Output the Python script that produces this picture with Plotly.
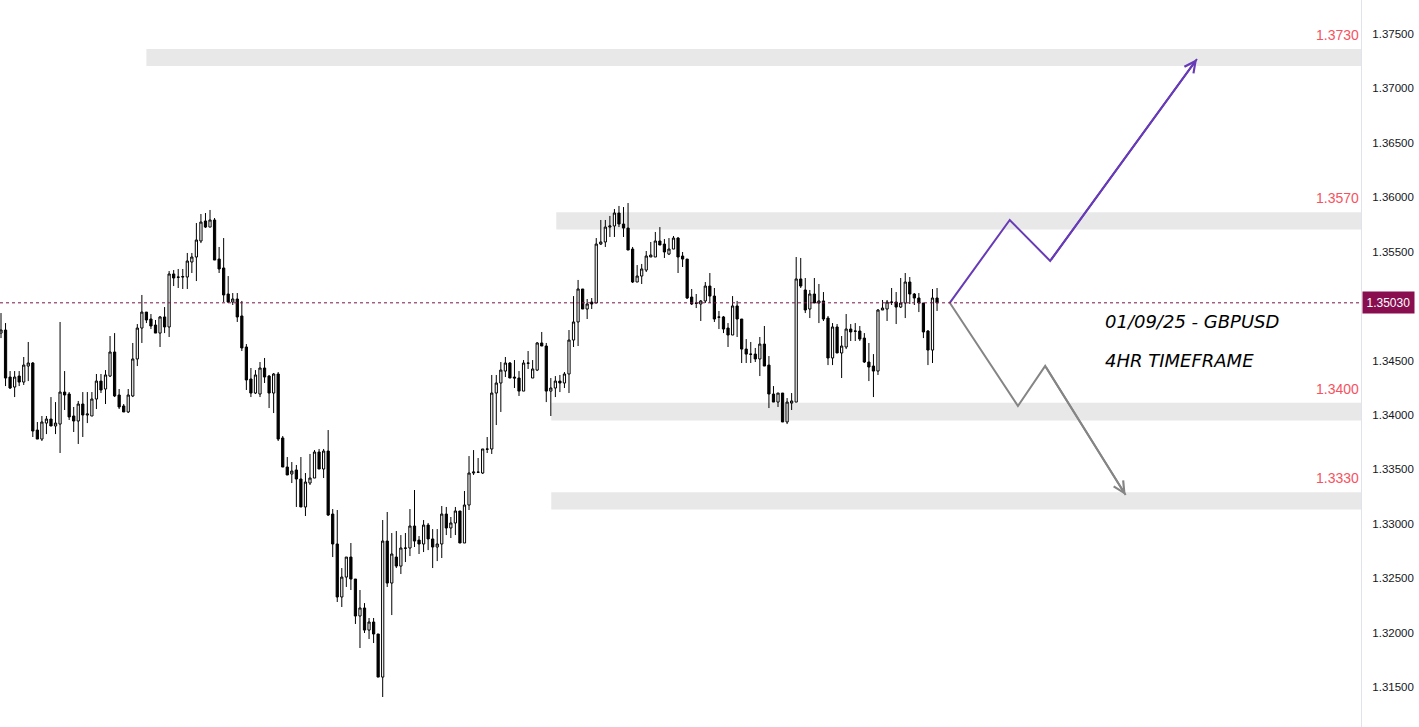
import plotly.graph_objects as go

# ---------------- data (GBPUSD 4H) ----------------
opens = [1.34752,1.34780,1.34348,1.34256,1.34357,1.34302,1.34449,1.34477,1.33861,1.33778,
1.33925,1.33962,1.33898,1.33916,1.34210,1.34192,1.33990,1.33944,1.34100,1.33999,
1.33990,1.34146,1.34311,1.34238,1.34357,1.34578,1.34183,1.34082,1.34027,1.34174,
1.34514,1.34798,1.34945,1.34881,1.34826,1.34752,1.34900,1.34808,1.35295,1.35267,
1.35267,1.35267,1.35405,1.35451,1.35598,1.35782,1.35726,1.35791,1.35432,1.35350,
1.35111,1.35037,1.35065,1.34909,1.34624,1.34330,1.34201,1.34192,1.34431,1.34357,
1.34201,1.34376,1.33788,1.33521,1.33457,1.33494,1.33411,1.33154,1.33374,1.33420,
1.33659,1.33503,1.33668,1.33089,1.32814,1.32327,1.32510,1.32694,1.32492,1.32152,
1.32226,1.32023,1.32097,1.31987,1.31591,1.32841,1.32455,1.32694,1.32611,1.32777,
1.32777,1.32979,1.32850,1.32814,1.32988,1.32860,1.32786,1.32814,1.33089,1.32961,
1.33007,1.33117,1.32823,1.33172,1.33466,1.33475,1.33466,1.33687,1.33687,1.34201,
1.34293,1.34403,1.34477,1.34348,1.34339,1.34219,1.34477,1.34339,1.34412,1.34661,
1.34633,1.34219,1.34247,1.34311,1.34293,1.34376,1.34688,1.34854,1.35157,1.34973,
1.35037,1.35028,1.35570,1.35589,1.35726,1.35736,1.35855,1.35754,1.35717,1.35524,
1.35221,1.35276,1.35331,1.35451,1.35451,1.35598,1.35570,1.35478,1.35524,1.35625,
1.35460,1.35432,1.35083,1.35028,1.35019,1.35047,1.35184,1.35092,1.34900,1.34900,
1.34798,1.34734,1.35001,1.34881,1.34605,1.34559,1.34559,1.34514,1.34651,1.34458,
1.34192,1.34118,1.34201,1.33935,1.34109,1.34118,1.35249,1.35148,1.34973,1.35111,
1.35028,1.35047,1.34890,1.34523,1.34808,1.34569,1.34624,1.34789,1.34771,1.34771,
1.34706,1.34486,1.34449,1.34403,1.34964,1.34973,1.35037,1.35037,1.34991,1.35028,
1.35221,1.35111,1.35074,1.35028,1.34771,1.34596,1.35074]

closes = [1.34780,1.34339,1.34247,1.34348,1.34302,1.34458,1.34477,1.33852,1.33778,1.33935,
1.33962,1.33898,1.33925,1.34210,1.34183,1.33981,1.33944,1.34100,1.33999,1.34008,
1.34146,1.34311,1.34229,1.34367,1.34578,1.34174,1.34073,1.34027,1.34183,1.34514,
1.34798,1.34945,1.34872,1.34817,1.34752,1.34900,1.34808,1.35295,1.35258,1.35265,
1.35271,1.35414,1.35451,1.35607,1.35772,1.35726,1.35791,1.35423,1.35341,1.35102,
1.35037,1.35065,1.34900,1.34615,1.34321,1.34201,1.34367,1.34431,1.34348,1.34201,
1.34376,1.33778,1.33521,1.33448,1.33484,1.33411,1.33154,1.33383,1.33420,1.33659,
1.33503,1.33668,1.33080,1.32814,1.32327,1.32510,1.32694,1.32492,1.32152,1.32226,
1.32023,1.32097,1.31987,1.31591,1.32841,1.32455,1.32722,1.32611,1.32777,1.32775,
1.32979,1.32841,1.32814,1.32988,1.32860,1.32786,1.32814,1.33089,1.32961,1.33007,
1.33117,1.32823,1.33172,1.33466,1.33475,1.33473,1.33687,1.33685,1.34201,1.34293,
1.34412,1.34477,1.34339,1.34339,1.34219,1.34477,1.34475,1.34422,1.34661,1.34633,
1.34219,1.34247,1.34311,1.34293,1.34376,1.34688,1.34854,1.35157,1.34973,1.35019,
1.35019,1.35570,1.35589,1.35726,1.35736,1.35855,1.35754,1.35717,1.35515,1.35221,
1.35276,1.35341,1.35460,1.35469,1.35598,1.35561,1.35497,1.35524,1.35625,1.35451,
1.35432,1.35074,1.35019,1.35026,1.35047,1.35184,1.35092,1.34881,1.34898,1.34789,
1.34734,1.35001,1.34881,1.34605,1.34559,1.34557,1.34514,1.34651,1.34449,1.34192,
1.34118,1.34201,1.33935,1.34118,1.34128,1.35249,1.35184,1.34964,1.35111,1.35028,
1.35047,1.34881,1.34523,1.34808,1.34569,1.34633,1.34789,1.34762,1.34769,1.34697,
1.34486,1.34440,1.34403,1.34964,1.34982,1.35037,1.35035,1.34991,1.35028,1.35221,
1.35111,1.35074,1.35028,1.34762,1.34596,1.35074,1.35030]

highs = [1.34936,1.34844,1.34403,1.34403,1.34403,1.34532,1.34670,1.34486,1.33935,1.33990,
1.33990,1.34164,1.34118,1.34854,1.34403,1.34210,1.34073,1.34128,1.34210,1.34210,
1.34210,1.34376,1.34376,1.34412,1.34725,1.34752,1.34238,1.34100,1.34238,1.34661,
1.34835,1.35102,1.34945,1.34927,1.34872,1.34909,1.34991,1.35322,1.35331,1.35341,
1.35341,1.35488,1.35488,1.35763,1.35846,1.35855,1.35883,1.35809,1.35543,1.35625,
1.35276,1.35120,1.35120,1.35047,1.34651,1.34431,1.34412,1.34486,1.34523,1.34367,
1.34385,1.34394,1.33806,1.33613,1.33567,1.33540,1.33613,1.33466,1.33641,1.33677,
1.33687,1.33687,1.33861,1.33135,1.33126,1.32593,1.32694,1.32823,1.32492,1.32391,
1.32271,1.32134,1.32134,1.31987,1.33034,1.33108,1.32915,1.32933,1.32896,1.32915,
1.33135,1.33310,1.32887,1.33034,1.33007,1.32951,1.32951,1.33163,1.33154,1.33062,
1.33154,1.33117,1.33301,1.33622,1.33677,1.33604,1.33687,1.33797,1.34367,1.34367,
1.34486,1.34532,1.34486,1.34504,1.34403,1.34504,1.34587,1.34504,1.34670,1.34762,
1.34661,1.34339,1.34357,1.34367,1.34394,1.34780,1.35092,1.35240,1.35157,1.35065,
1.35074,1.35625,1.35791,1.35791,1.35828,1.35892,1.35920,1.35910,1.35947,1.35543,
1.35377,1.35387,1.35506,1.35589,1.35681,1.35726,1.35616,1.35625,1.35644,1.35635,
1.35497,1.35432,1.35157,1.35111,1.35056,1.35221,1.35304,1.35166,1.34955,1.34909,
1.34844,1.35092,1.35047,1.34881,1.34697,1.34670,1.34615,1.34716,1.34817,1.34541,
1.34265,1.34201,1.34201,1.34155,1.34201,1.35451,1.35442,1.35258,1.35148,1.35258,
1.35203,1.35129,1.34909,1.34844,1.34835,1.34725,1.34927,1.34835,1.34844,1.34817,
1.34752,1.34661,1.34559,1.34973,1.35056,1.35056,1.35166,1.35129,1.35258,1.35304,
1.35267,1.35120,1.35120,1.35028,1.34780,1.35157,1.35166]

lows = [1.34706,1.34265,1.34238,1.34164,1.34265,1.34275,1.34311,1.33797,1.33778,1.33760,
1.33824,1.33898,1.33824,1.33650,1.34045,1.33953,1.33843,1.33733,1.33797,1.33925,
1.33990,1.34054,1.34201,1.34100,1.34348,1.34164,1.34054,1.34027,1.34017,1.34164,
1.34449,1.34661,1.34844,1.34789,1.34752,1.34624,1.34752,1.34716,1.35184,1.35166,
1.35157,1.35157,1.35304,1.35230,1.35579,1.35717,1.35726,1.35423,1.35304,1.35037,
1.35028,1.35010,1.34854,1.34587,1.34229,1.34164,1.34192,1.34164,1.34293,1.34063,
1.34017,1.33760,1.33521,1.33448,1.33374,1.33154,1.33154,1.33071,1.33356,1.33420,
1.33503,1.33420,1.33071,1.32694,1.32281,1.32235,1.32419,1.32391,1.32079,1.31858,
1.31996,1.31941,1.31904,1.31591,1.31408,1.32419,1.32161,1.32593,1.32538,1.32648,
1.32703,1.32786,1.32722,1.32740,1.32758,1.32593,1.32657,1.32685,1.32896,1.32869,
1.32896,1.32823,1.32823,1.33126,1.33448,1.33466,1.33457,1.33650,1.33641,1.33907,
1.34027,1.34348,1.34339,1.34247,1.34174,1.34219,1.34422,1.34339,1.34403,1.34633,
1.34118,1.33990,1.34164,1.34210,1.34247,1.34201,1.34624,1.34633,1.34973,1.34881,
1.34973,1.35028,1.35561,1.35543,1.35635,1.35635,1.35726,1.35635,1.35515,1.35212,
1.35221,1.35203,1.35313,1.35451,1.35451,1.35561,1.35442,1.35469,1.35524,1.35304,
1.35359,1.35065,1.35010,1.34982,1.34863,1.35028,1.35028,1.34854,1.34789,1.34752,
1.34624,1.34734,1.34716,1.34477,1.34477,1.34477,1.34486,1.34357,1.34449,1.34063,
1.34118,1.34073,1.33935,1.33916,1.34045,1.34118,1.35166,1.34936,1.34890,1.35028,
1.34844,1.34863,1.34458,1.34458,1.34569,1.34339,1.34605,1.34679,1.34679,1.34679,
1.34477,1.34311,1.34164,1.34367,1.34964,1.34863,1.35010,1.34835,1.34982,1.34890,
1.35019,1.35010,1.34945,1.34706,1.34458,1.34477,1.34955]

bars = list(range(len(opens)))

# horizontal zones: (start bar, bottom price, top price, label)
zone_start = [32.0, 122.2, 121.1, 121.1]
zone_bottom = [1.37206, 1.35704, 1.33949, 1.33131]
zone_top = [1.37362, 1.35862, 1.34112, 1.33289]
zone_labels = ["1.3730", "1.3570", "1.3400", "1.3330"]

last_price = 1.35030
y_ticks = [1.375, 1.370, 1.365, 1.360, 1.355, 1.345, 1.340, 1.335, 1.330, 1.325, 1.320, 1.315]

# projected scenarios
bull_x = [208.8, 222.0, 230.9, 263.2]
bull_y = [1.35030, 1.35791, 1.35415, 1.37270]
bear_x = [208.8, 223.8, 229.8, 247.5]
bear_y = [1.35030, 1.34082, 1.34450, 1.33264]

title_lines = ["01/09/25 - GBPUSD", "4HR TIMEFRAME"]
title_y = [1.34854, 1.34500]
title_x = 242.6

X_RANGE = [-0.22, 299.3]
Y_RANGE = [1.311324, 1.378124]

PURPLE = "#673ab7"
GRAY = "#858585"
RED = "#f7525f"
MAROON = "#7a1447"
ZONE = "#e8e8e8"

fig = go.Figure()

fig.add_trace(go.Candlestick(
    x=bars, open=opens, high=highs, low=lows, close=closes,
    increasing=dict(line=dict(color="#000000", width=1), fillcolor="#ffffff"),
    decreasing=dict(line=dict(color="#000000", width=1), fillcolor="#000000"),
    whiskerwidth=0, hoverinfo="skip", showlegend=False,
))

for xs, ys, col in [(bull_x, bull_y, PURPLE), (bear_x, bear_y, GRAY)]:
    fig.add_trace(go.Scatter(x=xs, y=ys, mode="lines",
                             line=dict(color=col, width=2),
                             hoverinfo="skip", showlegend=False))
    fig.add_annotation(x=xs[-1], y=ys[-1], ax=xs[-2], ay=ys[-2],
                       xref="x", yref="y", axref="x", ayref="y",
                       showarrow=True, arrowhead=5, arrowsize=1.1,
                       arrowwidth=2, arrowcolor=col, text="")

shapes = []
for xs0, yb, yt in zip(zone_start, zone_bottom, zone_top):
    shapes.append(dict(type="rect", xref="x", yref="y", x0=xs0, x1=X_RANGE[1],
                       y0=yb, y1=yt, fillcolor=ZONE, line=dict(width=0), layer="below"))
shapes.append(dict(type="line", xref="paper", yref="y", x0=0, x1=1,
                   y0=last_price, y1=last_price,
                   line=dict(color=MAROON, width=1, dash="dot")))
fig.update_layout(shapes=shapes)

for yt, lab in zip(zone_top, zone_labels):
    fig.add_annotation(x=1, xref="paper", y=yt, yref="y", text=lab,
                       showarrow=False, xanchor="right", yanchor="bottom",
                       xshift=0, yshift=4,
                       font=dict(family="Liberation Sans, Arial", size=14, color=RED))

for txt, ty in zip(title_lines, title_y):
    fig.add_annotation(x=title_x, y=ty, xref="x", yref="y", text="<i>" + txt + "</i>",
                       showarrow=False, xanchor="left", yanchor="middle",
                       font=dict(family="DejaVu Sans", size=18, color="#000000"))

fig.add_annotation(x=1, xref="paper", y=last_price, yref="y",
                   text="%.5f" % last_price, showarrow=False,
                   xanchor="left", yanchor="middle", xshift=1,
                   bgcolor="#880e4f", borderpad=3.5,
                   font=dict(family="Liberation Sans, Arial", size=12, color="#ffffff"))

fig.update_layout(
    width=1419, height=727,
    margin=dict(l=0, r=58, t=0, b=0),
    paper_bgcolor="#ffffff", plot_bgcolor="#ffffff",
    showlegend=False,
    xaxis=dict(range=X_RANGE, visible=False, rangeslider=dict(visible=False),
               showgrid=False, zeroline=False, fixedrange=True),
    yaxis=dict(range=Y_RANGE, side="right", showgrid=False, zeroline=False,
               tickvals=y_ticks, ticktext=["%.5f" % v for v in y_ticks],
               ticks="", ticklabelstandoff=8, automargin=False,
               showline=True, linecolor="#e0e3eb", linewidth=1,
               tickfont=dict(family="Liberation Sans, Arial", size=11.5, color="#131722")),
)

fig.write_html("out.html", config={"displayModeBar": False},
               post_script="document.body.style.margin='0';document.body.style.overflow='hidden';")
